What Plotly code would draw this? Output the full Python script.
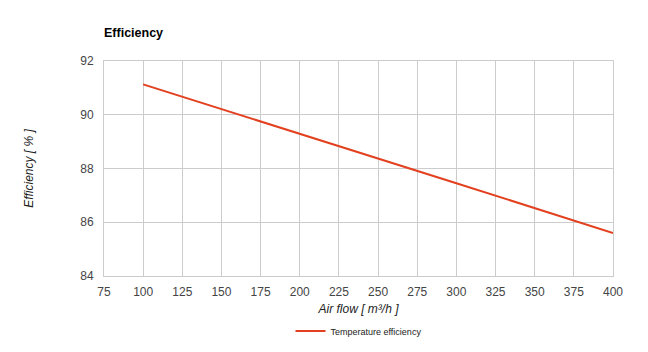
import plotly.graph_objects as go

air_flow = [100, 200, 300, 400]
efficiency = [91.13, 89.3, 87.45, 85.6]
x_ticks = [75, 100, 125, 150, 175, 200, 225, 250, 275, 300, 325, 350, 375, 400]
y_ticks = [84, 86, 88, 90, 92]

fig = go.Figure()
fig.add_trace(go.Scatter(
    x=air_flow, y=efficiency, mode="lines", name="Temperature efficiency",
    line=dict(color="#e2401f", width=2),
))

font = "Liberation Sans, Arial, sans-serif"
fig.update_layout(
    width=648, height=352,
    margin=dict(l=104, r=35, t=61, b=76, autoexpand=False),
    paper_bgcolor="white", plot_bgcolor="white",
    font=dict(family=font, size=12, color="#444"),
    title=dict(text="<b>Efficiency</b>", x=104/648, xanchor="left", y=1-33/352, yanchor="middle",
               font=dict(family=font, size=12.5, color="#000")),
    showlegend=True,
    legend=dict(orientation="h", x=0.5, xanchor="center", yref="container", y=1-331/352, yanchor="middle",
                font=dict(family=font, size=9, color="#222"), itemwidth=30),
    xaxis=dict(range=[75, 400], tickvals=x_ticks, showgrid=True, gridcolor="#cccccc",
               gridwidth=1, zeroline=False, showline=True, linecolor="#cccccc", mirror=True,
               ticks="outside", ticklen=5, tickcolor="rgba(0,0,0,0)", tickfont=dict(size=12, color="#444"),
               title=dict(text="<i>Air flow [ m³/h ]</i>", font=dict(size=12, color="#222"), standoff=17)),
    yaxis=dict(range=[84, 92], tickvals=y_ticks, showgrid=True, gridcolor="#cccccc",
               gridwidth=1, zeroline=False, showline=True, linecolor="#cccccc", mirror=True,
               ticks="outside", ticklen=7, tickcolor="rgba(0,0,0,0)", tickfont=dict(size=12, color="#444"),
               title=dict(text="<i>Efficiency [ % ]</i>", font=dict(size=12, color="#222"), standoff=44)),
)
fig.write_html("out.html")
